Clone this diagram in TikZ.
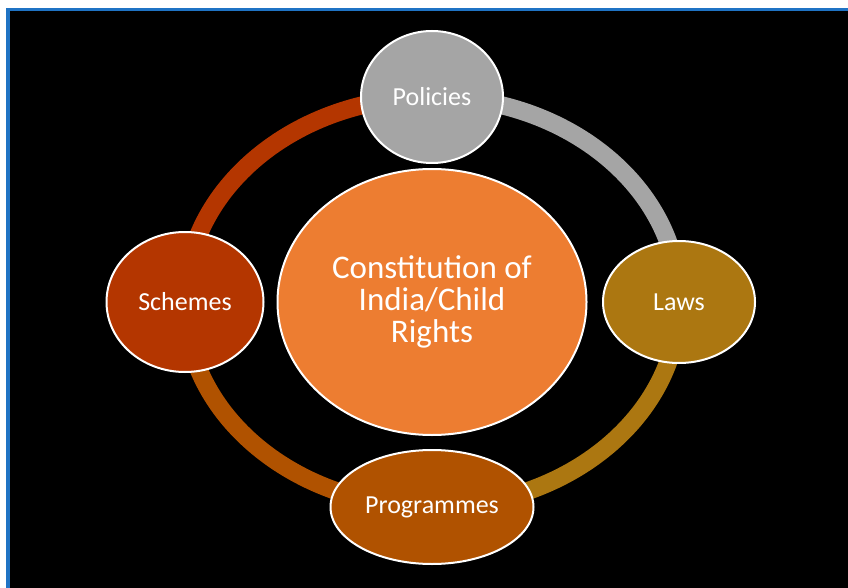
\documentclass[tikz,border=0pt]{standalone}
\usepackage{fontspec}
\setmainfont{Carlito}
\usepackage{xcolor}
\usepackage{tikz}
\usetikzlibrary{shapes.geometric,positioning,backgrounds}

\definecolor{hubOrange}{HTML}{ED7D31}
\definecolor{polGray}{HTML}{A5A5A5}
\definecolor{lawGold}{HTML}{AC7711}
\definecolor{progBrown}{HTML}{B05200}
\definecolor{schRust}{HTML}{B43600}
\definecolor{frameBlue}{HTML}{1F73C4}

\tikzset{
  bubble/.style={ellipse, draw=white, line width=2pt, inner sep=0pt,
    text=white, font=\fontsize{26}{30}\selectfont, align=center},
  hub/.style={bubble, fill=hubOrange, font=\fontsize{33}{32}\selectfont},
  ringseg/.style={line width=18pt}
}

\begin{document}
\begin{tikzpicture}[x=1pt,y=-1pt]
  \useasboundingbox (0,0) rectangle (848,588);

  % nodes on the ring
  \node[bubble, fill=polGray, minimum width=142pt, minimum height=132pt] (pol) at (432,97) {Policies};
  \node[bubble, fill=lawGold, minimum width=152pt, minimum height=122pt] (law) at (679,302) {Laws};
  \node[bubble, fill=progBrown, minimum width=203pt, minimum height=114pt] (prog) at (432,507) {Programmes};
  \node[bubble, fill=schRust, minimum width=157pt, minimum height=140pt] (sch) at (185,302) {Schemes};
  \node[hub, minimum width=309pt, minimum height=266pt] (hub) at (432,302) {Constitution of\\India/Child\\Rights};

  \begin{scope}[on background layer]
    % frame
    \fill[white] (0,0) rectangle (848,588);
    \clip (0,0) rectangle (848,588);
    \filldraw[fill=black, draw=frameBlue, line width=3.5pt] (8,9.5) rectangle (860,600);
    % ring segments
    \draw[ringseg, polGray] (pol.center) arc[start angle=90, end angle=0, x radius=247pt, y radius=205pt];
    \draw[ringseg, lawGold] (law.center) arc[start angle=0, end angle=-90, x radius=247pt, y radius=205pt];
    \draw[ringseg, progBrown] (prog.center) arc[start angle=270, end angle=180, x radius=247pt, y radius=205pt];
    \draw[ringseg, schRust] (sch.center) arc[start angle=180, end angle=90, x radius=247pt, y radius=205pt];
  \end{scope}
\end{tikzpicture}
\end{document}
